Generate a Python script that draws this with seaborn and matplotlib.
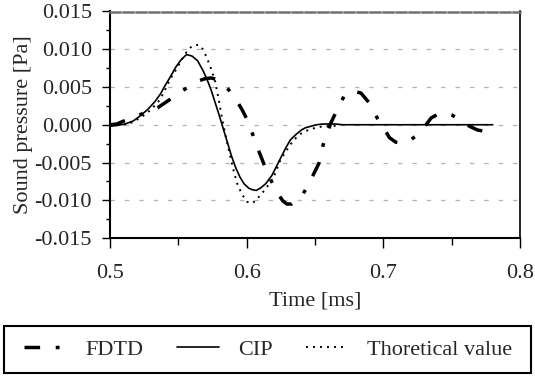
import numpy as np
import pandas as pd
import matplotlib
matplotlib.use("Agg")
import matplotlib.pyplot as plt
import seaborn as sns
from matplotlib.ticker import MultipleLocator, FormatStrFormatter
from matplotlib.patches import Rectangle

# ---------------- data ----------------
cip_t = [0.500, 0.505, 0.511, 0.517, 0.523, 0.528, 0.533, 0.537, 0.540, 0.544,
         0.548, 0.552, 0.556, 0.560, 0.564, 0.568, 0.571, 0.574, 0.577, 0.580,
         0.583, 0.586, 0.589, 0.592, 0.595, 0.598, 0.6015, 0.604, 0.607, 0.610,
         0.614, 0.6185, 0.6235, 0.6285, 0.632, 0.636, 0.640, 0.643, 0.647, 0.651,
         0.656, 0.660, 0.665, 0.670, 0.680, 0.700, 0.740, 0.780]
cip_p = [-0.0002, -0.0001, 0.0001, 0.0005, 0.0013, 0.0021, 0.0031, 0.0041, 0.0051, 0.0063,
         0.0076, 0.0086, 0.0093, 0.0091, 0.0085, 0.0072, 0.0060, 0.0046, 0.0029, 0.0012,
         -0.0006, -0.0024, -0.0042, -0.0057, -0.0069, -0.0078, -0.0084, -0.0086, -0.0087, -0.0084,
         -0.0078, -0.0067, -0.0049, -0.0031, -0.0020, -0.0013, -0.0007, -0.0004, -0.0002, 0.0000,
         0.0001, 0.0001, 0.0001, 0.0000, 0.0000, 0.0000, 0.0000, 0.0000]

theo_t = [0.510, 0.516, 0.523, 0.530, 0.5365, 0.540, 0.5439, 0.548, 0.5512, 0.555,
          0.5598, 0.5647, 0.568, 0.5708, 0.574, 0.577, 0.5795, 0.5819, 0.585, 0.588,
          0.5905, 0.5929, 0.5965, 0.6003, 0.604, 0.607, 0.610, 0.6125, 0.615, 0.6199,
          0.6248, 0.631, 0.6345, 0.6395, 0.645, 0.6505, 0.656, 0.6615, 0.6676]
theo_p = [0.0000, 0.0003, 0.0010, 0.0020, 0.0033, 0.0045, 0.0060, 0.0072, 0.0082, 0.0094,
          0.0104, 0.0106, 0.0100, 0.0089, 0.0074, 0.0057, 0.0034, 0.0009, -0.0018, -0.0042,
          -0.0061, -0.0077, -0.0092, -0.0102, -0.0104, -0.0100, -0.0093, -0.0088, -0.0082, -0.0069,
          -0.0046, -0.0029, -0.0020, -0.0012, -0.0007, -0.0004, -0.0002, -0.0002, -0.0001]

fdtd_t = [0.500, 0.505, 0.5127, 0.519, 0.5255, 0.5305, 0.5353, 0.541, 0.5475, 0.553,
          0.5598, 0.5647, 0.5696, 0.574, 0.578, 0.5819, 0.5865, 0.5917, 0.5966, 0.600,
          0.6027, 0.6076, 0.6113, 0.615, 0.6195, 0.6235, 0.6265, 0.6295, 0.633, 0.637,
          0.6407, 0.6445, 0.648, 0.6529, 0.6559, 0.6615, 0.6652, 0.6713, 0.677, 0.6836,
          0.6897, 0.6958, 0.700, 0.7044, 0.709, 0.7142, 0.720, 0.726, 0.730, 0.735,
          0.740, 0.744, 0.750, 0.757, 0.763, 0.769, 0.775, 0.780]
fdtd_p = [0.0000, 0.0001, 0.0007, 0.0011, 0.0016, 0.0019, 0.0023, 0.0030, 0.0038, 0.0045,
          0.0053, 0.0058, 0.0061, 0.0062, 0.0060, 0.0056, 0.0047, 0.0035, 0.0020, 0.0008,
          -0.0004, -0.0029, -0.0046, -0.0063, -0.0080, -0.0093, -0.0101, -0.0105, -0.0105, -0.0100,
          -0.0093, -0.0082, -0.0069, -0.0051, -0.0027, 0.0002, 0.0016, 0.0038, 0.0045, 0.0042,
          0.0029, 0.0008, -0.0003, -0.0017, -0.0023, -0.0025, -0.0020, -0.0012, -0.0003, 0.0009,
          0.0014, 0.0016, 0.0013, 0.0006, -0.0002, -0.0007, -0.0009, -0.0008]

labels = ["FDTD", "CIP", "Thoretical value"]
x_ticks = [0.5, 0.6, 0.7, 0.8]
y_ticks = [-0.015, -0.010, -0.005, 0.000, 0.005, 0.010, 0.015]

# ---------------- style ----------------
sns.set_style("ticks")
plt.rcParams["font.family"] = ["Liberation Serif", "DejaVu Serif"]
plt.rcParams["axes.unicode_minus"] = False

fig = plt.figure(figsize=(5.35, 3.76), dpi=100)
ax = fig.add_axes([110 / 535, 1 - 238 / 376, 410 / 535, 226.5 / 376])

sns.lineplot(x=fdtd_t, y=fdtd_p, ax=ax, color="black", lw=2.5, sort=False,
             estimator=None, linestyle=(0, (4.5, 4.5, 1.1, 4.5)), label=labels[0])
sns.lineplot(x=cip_t, y=cip_p, ax=ax, color="black", lw=1.2, sort=False,
             estimator=None, linestyle="-", label=labels[1])
sns.lineplot(x=theo_t, y=theo_p, ax=ax, color="black", lw=1.4, sort=False,
             estimator=None, linestyle=(0, (1, 2.6)), label=labels[2])

ax.set_xlim(0.5, 0.8)
ax.set_ylim(-0.015, 0.015)
ax.set_xticks(x_ticks)
ax.set_yticks(y_ticks)
ax.xaxis.set_minor_locator(MultipleLocator(0.05))
ax.yaxis.set_minor_locator(MultipleLocator(0.0025))
ax.xaxis.set_major_formatter(FormatStrFormatter("%.1f"))
ax.yaxis.set_major_formatter(FormatStrFormatter("%.3f"))

ax.yaxis.grid(True, which="major", color="#b4b4b4", lw=0.9, linestyle=(0, (3.6, 7.9)))
ax.set_axisbelow(True)

for side in ["left", "bottom", "right"]:
    ax.spines[side].set_visible(True)
    ax.spines[side].set_color("black")
    ax.spines[side].set_linewidth(1.5)
ax.spines["right"].set_linewidth(1.2)
ax.spines["top"].set_visible(True)
ax.spines["top"].set_color("#707070")
ax.spines["top"].set_linewidth(1.8)
ax.spines["top"].set_linestyle((0, (4, 1.2)))

ax.tick_params(axis="y", which="major", direction="out", length=6, width=1,
               labelsize=16, pad=7, color="black", right=False)
ax.tick_params(axis="y", which="minor", direction="out", length=3, width=1,
               color="black", right=False)
ax.tick_params(axis="x", which="major", direction="out", length=7, width=1,
               labelsize=16, pad=12, color="black", top=False)
ax.tick_params(axis="x", which="minor", direction="out", length=5, width=1,
               color="black", top=False)

ax.set_xlabel("Time [ms]", fontsize=16, labelpad=6)
ax.set_ylabel("Sound pressure [Pa]", fontsize=16, labelpad=1)

handles, labs = ax.get_legend_handles_labels()
ax.get_legend().remove()
fig.legend(handles, labs, loc="center", ncol=3, mode="expand",
           bbox_to_anchor=(24 / 535, 3 / 376, (512 - 24) / 535, 47 / 376),
           frameon=False, borderaxespad=0, borderpad=0, fontsize=16,
           handlelength=1.9, handletextpad=0.85)
fig.patches.append(Rectangle((4 / 535, 3 / 376), 527 / 535, 47 / 376,
                             transform=fig.transFigure, fill=False,
                             edgecolor="black", lw=1.5))

fig.savefig("out.png", dpi=100)
